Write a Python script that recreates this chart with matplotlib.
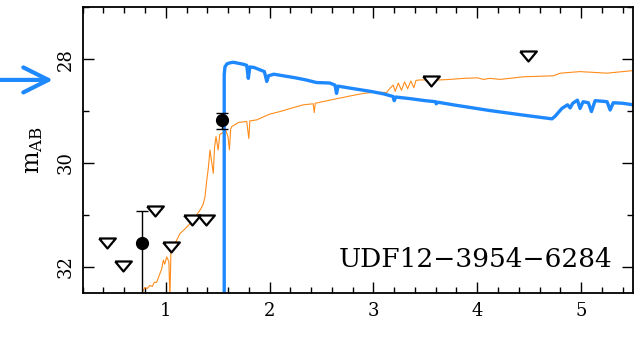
import matplotlib
matplotlib.use("Agg")
from matplotlib import pyplot as plt
from matplotlib.ticker import MultipleLocator

# model spectra (wavelength in micron, AB mag)
blue_x = [1.563, 1.563, 1.57, 1.59, 1.62, 1.65, 1.70, 1.75, 1.78, 1.795, 1.81, 1.85, 1.90, 1.95,
          1.973, 1.99, 2.04, 2.13, 2.25, 2.35, 2.45, 2.58, 2.63, 2.645, 2.66, 2.78, 2.97, 3.10,
          3.19, 3.20, 3.215, 3.35, 3.50, 3.60, 3.605, 3.62, 3.80, 4.12, 4.45, 4.72, 4.75, 4.815,
          4.87, 4.895, 4.92, 4.965, 4.99, 5.02, 5.07, 5.10, 5.135, 5.20, 5.25, 5.28, 5.31, 5.40, 5.505]
blue_y = [32.6, 28.3, 28.15, 28.09, 28.07, 28.06, 28.08, 28.10, 28.12, 28.37, 28.15, 28.16, 28.20, 28.24,
          28.43, 28.32, 28.29, 28.32, 28.36, 28.40, 28.45, 28.46, 28.50, 28.66, 28.52, 28.56, 28.62, 28.67,
          28.72, 28.80, 28.73, 28.76, 28.80, 28.82, 28.86, 28.83, 28.89, 28.99, 29.08, 29.15, 29.10, 28.95,
          28.88, 28.94, 28.85, 28.79, 28.95, 28.82, 28.84, 29.01, 28.80, 28.81, 28.82, 28.98, 28.84, 28.85, 28.88]

orange_x = [0.76, 0.784, 0.80, 0.82, 0.848, 0.87, 0.89, 0.913, 0.94, 0.96, 0.977, 0.99, 1.009, 1.03,
            1.04, 1.05, 1.057, 1.09, 1.137, 1.18, 1.234, 1.28, 1.33, 1.36, 1.378, 1.395, 1.41, 1.426,
            1.44, 1.458, 1.47, 1.484, 1.505, 1.52, 1.539, 1.56, 1.58, 1.60, 1.613, 1.625, 1.636, 1.70,
            1.78, 1.80, 1.81, 1.876, 2.00, 2.10, 2.20, 2.325, 2.42, 2.43, 2.44, 2.58, 2.775, 2.903,
            3.0, 3.129, 3.16, 3.19, 3.21, 3.24, 3.27, 3.30, 3.33, 3.36, 3.39, 3.41, 3.45, 3.643,
            3.74, 3.87, 4.0, 4.06, 4.124, 4.22, 4.445, 4.6, 4.734, 4.8, 4.99, 5.25, 5.40, 5.505]
orange_y = [32.6, 32.45, 32.40, 32.42, 32.36, 32.38, 32.30, 32.30, 32.15, 32.05, 31.87, 31.95, 31.81, 31.90,
            32.6, 31.70, 31.66, 31.55, 31.36, 31.28, 31.17, 31.05, 30.91, 30.80, 30.65, 30.33, 30.10, 29.75,
            29.95, 30.20, 29.70, 29.49, 29.75, 29.45, 29.43, 29.40, 29.38, 29.50, 29.75, 29.35, 29.30, 29.22,
            29.20, 29.53, 29.19, 29.17, 29.06, 29.01, 28.95, 28.88, 28.86, 29.03, 28.85, 28.79, 28.71, 28.66,
            28.64, 28.64, 28.56, 28.50, 28.62, 28.46, 28.60, 28.44, 28.57, 28.42, 28.55, 28.41, 28.40, 28.40,
            28.39, 28.37, 28.36, 28.39, 28.37, 28.39, 28.34, 28.33, 28.32, 28.27, 28.24, 28.27, 28.24, 28.22]

# photometry
lim_x = [0.435, 0.59, 0.90, 1.05, 1.25, 1.39, 3.55, 4.49]
lim_y = [31.55, 31.98, 30.93, 31.62, 31.10, 31.10, 28.42, 27.93]
det_x = [0.775, 1.54]
det_y = [31.54, 29.17]
det_err_bright = [0.62, 0.14]
det_err_faint = [1.5, 0.17]

arrow_mag = 28.4
label = "UDF12\u22123954\u22126284"

plt.rcParams['font.family'] = ['DejaVu Serif']

fig = plt.figure(figsize=(6.41, 3.39), dpi=100)
ax = fig.add_axes([0.129, 0.1366, 0.8585, 0.842])

ax.plot(orange_x, orange_y, color='#ff8c1a', lw=0.8)
ax.plot(blue_x, blue_y, color='#1e88ff', lw=2.4)

tri = [(-1, 0.6), (1, 0.6), (0, -0.6), (-1, 0.6)]
ax.plot(lim_x, lim_y, ls='none', marker=tri, ms=12, mfc='white', mec='black', mew=1.6)
ax.errorbar(det_x, det_y, yerr=[det_err_bright, det_err_faint], fmt='o', color='black',
            ms=8.5, elinewidth=1.0, capsize=4.5, capthick=1.0)

ax.set_xlim(0.2, 5.5)
ax.set_ylim(32.5, 27.0)
ax.xaxis.set_major_locator(MultipleLocator(1))
ax.xaxis.set_minor_locator(MultipleLocator(0.2))
ax.yaxis.set_major_locator(MultipleLocator(2))
ax.yaxis.set_minor_locator(MultipleLocator(1))
ax.tick_params(which='both', direction='in', top=True, right=True, labelsize=13, width=1.0)
ax.tick_params(which='major', length=8)
ax.tick_params(which='minor', length=4.5)
ax.tick_params(axis='x', pad=7)
ax.tick_params(axis='y', pad=6)
for t in ax.get_yticklabels():
    t.set_rotation(90)
    t.set_va('center')
for s in ax.spines.values():
    s.set_linewidth(1.3)

ax.set_ylabel(r"$\mathregular{m_{AB}}$", fontsize=17, labelpad=8)

ax.text(0.963, 0.115, label, transform=ax.transAxes, ha='right', va='center', fontsize=19)

ax.annotate("", xy=(-0.054, arrow_mag), xytext=(-0.16, arrow_mag),
            xycoords=('axes fraction', 'data'), textcoords=('axes fraction', 'data'),
            arrowprops=dict(arrowstyle='->,head_length=0.9,head_width=0.45', color='#1e88ff',
                            lw=3, mutation_scale=20, shrinkA=0, shrinkB=0),
            annotation_clip=False)

fig.savefig("out.png", dpi=100)
